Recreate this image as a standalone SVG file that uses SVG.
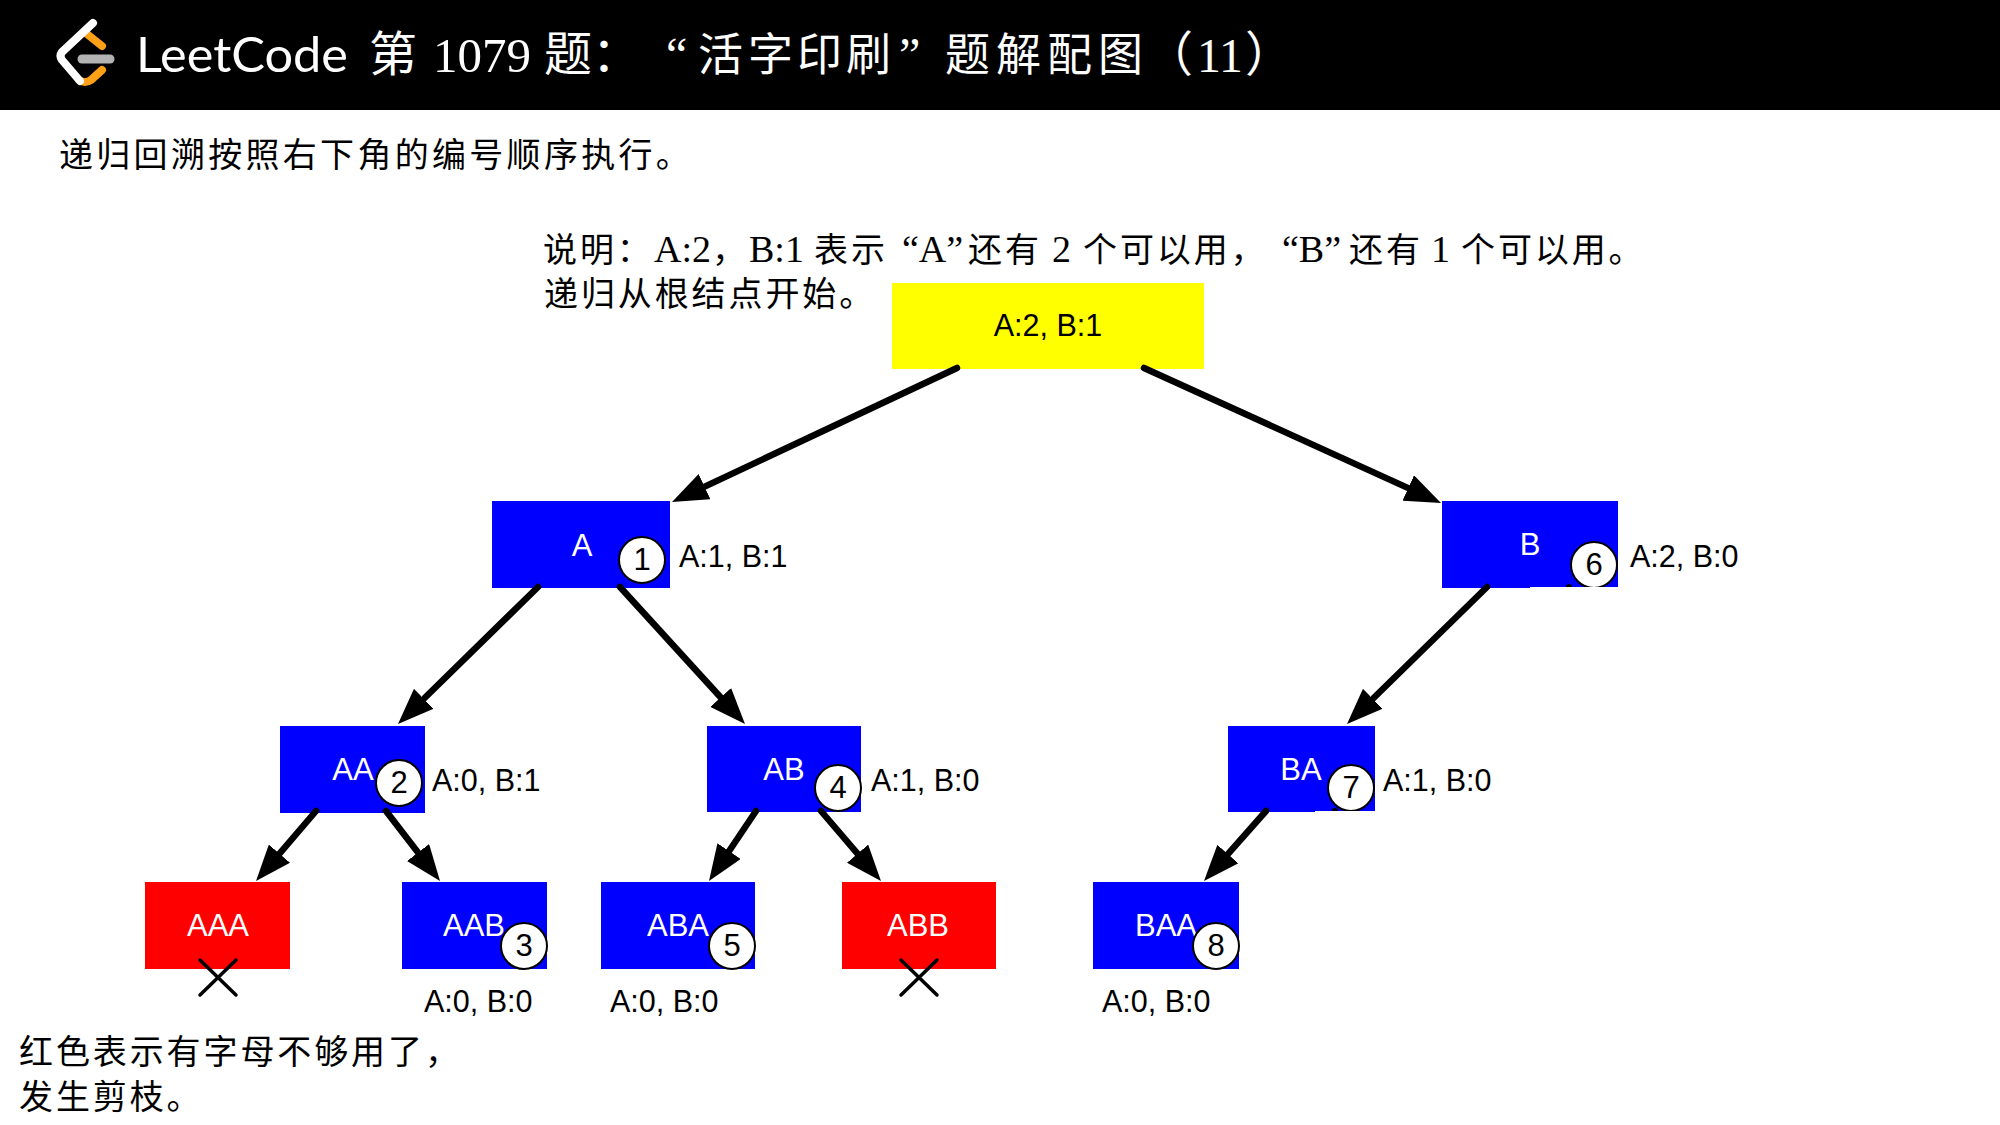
<svg xmlns="http://www.w3.org/2000/svg" width="2000" height="1125" viewBox="0 0 2000 1125">
  <style>
    .cjk { font-family: "Liberation Serif", "Noto Sans CJK SC", serif; font-size: 34px; fill: #000; }
    .sp { letter-spacing: 2.9px; }
    .lat { font-size: 38px; }
    .head { font-family: "Liberation Serif", "Noto Sans CJK SC", serif; font-size: 48px; fill: #fff; }
    .hn { font-size: 45px; }
    .lb { font-family: "Liberation Sans", Arial, sans-serif; font-size: 30.5px; fill: #000; }
    .nm { font-family: "Liberation Sans", Arial, sans-serif; font-size: 31px; fill: #fff; text-anchor: middle; }
    .num { font-family: "Liberation Sans", Arial, sans-serif; font-size: 31px; fill: #000; text-anchor: middle; }
    .blue { fill: #0000ff; }
    .red { fill: #ff0000; }
    .badge { fill: #fff; stroke: #000; stroke-width: 2; }
    .edge { fill: none; stroke: #000; stroke-width: 6.5; stroke-linecap: round; marker-end: url(#tip); }
    .cross { fill: none; stroke: #000; stroke-width: 3.5; stroke-linecap: round; }
  </style>
  <defs>
    <marker id="tip" markerUnits="userSpaceOnUse" markerWidth="37" markerHeight="28" refX="17" refY="14" orient="auto">
      <path d="M0,0 L36,14 L0,28 z" fill="#000"/>
    </marker>
  </defs>
  <rect width="2000" height="1125" fill="#fff"/>

  <g id="header">
    <rect width="2000" height="110" fill="#000"/>
    <g fill="none" stroke-linecap="round" stroke-linejoin="round">
      <path d="M87,34 L102,46 M102,70 L91,80 Q85,84 79,80" stroke="#ffa116" stroke-width="8"/>
      <path d="M82,59 H110" stroke="#b3b3b3" stroke-width="9"/>
      <path d="M93,23 L62,52 Q59,56 62,60 L80,81" stroke="#fff" stroke-width="8"/>
    </g>
    <text x="136" y="72" font-family="Lato, 'Noto Sans', sans-serif" font-weight="400" font-size="48" fill="#fff" textLength="212" lengthAdjust="spacingAndGlyphs">LeetCode</text>
    <text class="head" y="71"><tspan x="369">第</tspan><tspan x="544">题：</tspan><tspan x="666">“</tspan><tspan class="hn" x="698">活</tspan><tspan class="hn" x="748">字</tspan><tspan class="hn" x="797">印</tspan><tspan class="hn" x="846">刷</tspan><tspan x="899">”</tspan><tspan class="hn" x="945">题</tspan><tspan class="hn" x="996">解</tspan><tspan class="hn" x="1047">配</tspan><tspan class="hn" x="1098">图</tspan><tspan x="1145">（</tspan><tspan x="1245">）</tspan></text>
    <text class="head" x="433" y="72" font-size="54" textLength="98" lengthAdjust="spacingAndGlyphs">1079</text>
    <text class="head" x="1197" y="72" font-size="54" textLength="46" lengthAdjust="spacingAndGlyphs">11</text>
  </g>

  <g id="notes">
    <text class="cjk" x="59" y="167" letter-spacing="3.3">递归回溯按照右下角的编号顺序执行。</text>
    <text class="cjk" y="262"><tspan class="sp" x="543">说明：</tspan><tspan class="lat" x="654">A:2</tspan><tspan x="712">，</tspan><tspan class="lat" x="749">B:1</tspan><tspan class="sp" x="814">表示</tspan><tspan class="lat" x="902">“A”</tspan><tspan class="sp" x="968">还有</tspan><tspan class="lat" x="1052">2</tspan><tspan class="sp" x="1083">个可以用，</tspan><tspan class="lat" x="1282">“B”</tspan><tspan class="sp" x="1349">还有</tspan><tspan class="lat" x="1431">1</tspan><tspan class="sp" x="1461">个可以用。</tspan></text>
    <text class="cjk sp" x="544" y="306">递归从根结点开始。</text>
    <text class="cjk sp" x="19" y="1064">红色表示有字母不够用了，</text>
    <text class="cjk sp" x="19" y="1109">发生剪枝。</text>
  </g>

  <g id="node-root">
    <rect x="892" y="283" width="312" height="86" fill="#ffff00"/>
    <text class="lb" x="1048" y="336" text-anchor="middle">A:2, B:1</text>
  </g>
  <g id="node-a">
    <rect class="blue" x="492" y="501" width="178" height="87"/>
    <text class="nm" x="582" y="556">A</text>
    <circle class="badge" cx="642" cy="560" r="23"/>
    <text class="num" x="642" y="570">1</text>
    <text class="lb" x="679" y="567">A:1, B:1</text>
  </g>
  <g id="node-b">
    <rect class="blue" x="1442" y="501" width="176" height="87"/>
    <text class="nm" x="1530" y="555">B</text>
    <circle class="badge" cx="1594" cy="565" r="23"/>
    <text class="num" x="1594" y="575">6</text>
    <circle cx="1569" cy="587" r="3" fill="#000"/>
    <rect x="1530" y="587" width="95" height="6" fill="#fff"/>
    <text class="lb" x="1630" y="567">A:2, B:0</text>
  </g>
  <g id="node-aa">
    <rect class="blue" x="280" y="726" width="145" height="87"/>
    <text class="nm" x="353" y="780">AA</text>
    <circle class="badge" cx="399" cy="783" r="23"/>
    <text class="num" x="399" y="793">2</text>
    <text class="lb" x="432" y="791">A:0, B:1</text>
  </g>
  <g id="node-ab">
    <rect class="blue" x="707" y="726" width="154" height="86"/>
    <text class="nm" x="784" y="780">AB</text>
    <circle class="badge" cx="838" cy="788" r="23"/>
    <text class="num" x="838" y="798">4</text>
    <text class="lb" x="871" y="791">A:1, B:0</text>
  </g>
  <g id="node-ba">
    <rect class="blue" x="1228" y="726" width="147" height="86"/>
    <text class="nm" x="1301" y="780">BA</text>
    <circle class="badge" cx="1351" cy="788" r="23"/>
    <text class="num" x="1351" y="798">7</text>
    <circle cx="1335" cy="811" r="3" fill="#000"/>
    <rect x="1315" y="811" width="65" height="6" fill="#fff"/>
    <text class="lb" x="1383" y="791">A:1, B:0</text>
  </g>
  <g id="node-aaa">
    <rect class="red" x="145" y="882" width="145" height="87"/>
    <text class="nm" x="218" y="936">AAA</text>
    <path class="cross" d="M200,960 L236,995 M236,960 L200,995"/>
  </g>
  <g id="node-aab">
    <rect class="blue" x="402" y="882" width="145" height="87"/>
    <text class="nm" x="474" y="936">AAB</text>
    <circle class="badge" cx="524" cy="946" r="23"/>
    <text class="num" x="524" y="956">3</text>
    <text class="lb" x="424" y="1012">A:0, B:0</text>
  </g>
  <g id="node-aba">
    <rect class="blue" x="601" y="882" width="154" height="87"/>
    <text class="nm" x="678" y="936">ABA</text>
    <circle class="badge" cx="732" cy="946" r="23"/>
    <text class="num" x="732" y="956">5</text>
    <text class="lb" x="610" y="1012">A:0, B:0</text>
  </g>
  <g id="node-abb">
    <rect class="red" x="842" y="882" width="154" height="87"/>
    <text class="nm" x="918" y="936">ABB</text>
    <path class="cross" d="M901,960 L937,995 M937,960 L901,995"/>
  </g>
  <g id="node-baa">
    <rect class="blue" x="1093" y="882" width="146" height="87"/>
    <text class="nm" x="1166" y="936">BAA</text>
    <circle class="badge" cx="1216" cy="946" r="23"/>
    <text class="num" x="1216" y="956">8</text>
    <text class="lb" x="1102" y="1012">A:0, B:0</text>
  </g>

  <g id="connectors">
    <line class="edge" x1="957" y1="368" x2="689.2" y2="493.9"/>
    <line class="edge" x1="1144" y1="368" x2="1423.7" y2="495.1"/>
    <line class="edge" x1="538" y1="587" x2="411.6" y2="710.7"/>
    <line class="edge" x1="620" y1="587" x2="732.2" y2="710"/>
    <line class="edge" x1="1487" y1="587" x2="1360.6" y2="710.7"/>
    <line class="edge" x1="316" y1="811" x2="268.4" y2="866.6"/>
    <line class="edge" x1="386" y1="811" x2="428.4" y2="866"/>
    <line class="edge" x1="756" y1="811" x2="719.6" y2="865.2"/>
    <line class="edge" x1="821" y1="811" x2="868.6" y2="866.6"/>
    <line class="edge" x1="1266" y1="811" x2="1216.6" y2="866.8"/>
  </g>
</svg>
